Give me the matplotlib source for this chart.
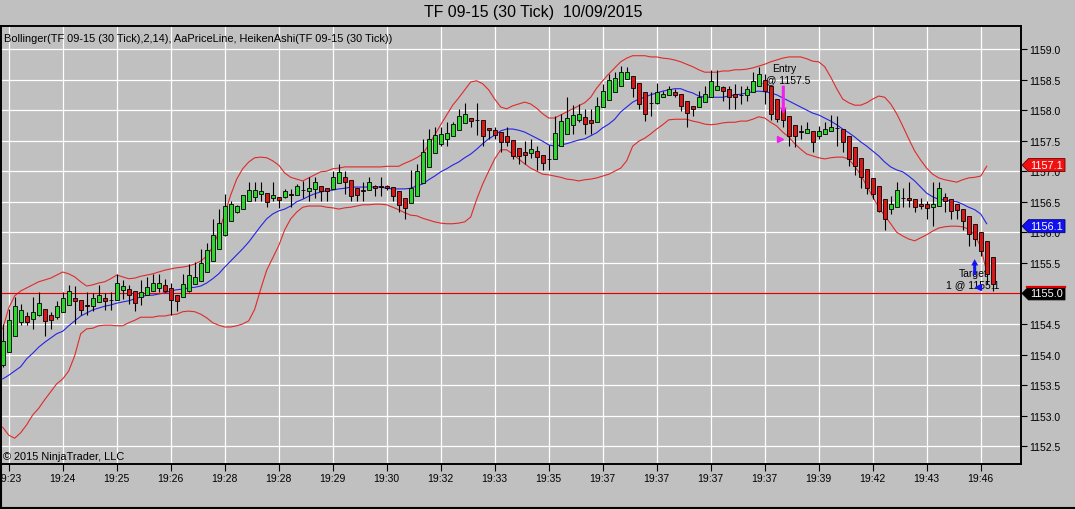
import matplotlib
matplotlib.use('Agg')
import matplotlib.pyplot as plt
import numpy as np
from matplotlib.patches import Polygon
from matplotlib.lines import Line2D
from matplotlib.transforms import IdentityTransform

# ---------------- data (Heiken Ashi candles, TF 09-15 30 tick) ----------------
opens = [
1153.82, 1154.04, 1154.30, 1154.54, 1154.63, 1154.58, 1154.65, 1154.74, 1154.65, 1154.61,
1154.69, 1154.81, 1154.92, 1154.90, 1154.81, 1154.80, 1154.86, 1154.92, 1154.89, 1154.89,
1155.06, 1155.08, 1155.04, 1154.94, 1154.98, 1155.04, 1155.09, 1155.14, 1155.09, 1154.98,
1154.94, 1155.04, 1155.16, 1155.21, 1155.35, 1155.53, 1155.73, 1155.95, 1156.19, 1156.33,
1156.38, 1156.51, 1156.58, 1156.63, 1156.64, 1156.56, 1156.58, 1156.57, 1156.62, 1156.61,
1156.69, 1156.68, 1156.71, 1156.76, 1156.72, 1156.71, 1156.80, 1156.90, 1156.85, 1156.72,
1156.69, 1156.69, 1156.75, 1156.75, 1156.75, 1156.74, 1156.67, 1156.56, 1156.48, 1156.60,
1156.80, 1157.07, 1157.30, 1157.45, 1157.53, 1157.57, 1157.68, 1157.79, 1157.87, 1157.84,
1157.84, 1157.71, 1157.68, 1157.64, 1157.57, 1157.51, 1157.38, 1157.31, 1157.30, 1157.33,
1157.27, 1157.20, 1157.20, 1157.41, 1157.61, 1157.75, 1157.84, 1157.89, 1157.83, 1157.81,
1158.05, 1158.16, 1158.29, 1158.40, 1158.51, 1158.55, 1158.45, 1158.29, 1158.11, 1158.11,
1158.21, 1158.24, 1158.29, 1158.26, 1158.15, 1158.07, 1158.05, 1158.13, 1158.21, 1158.33,
1158.37, 1158.35, 1158.27, 1158.25, 1158.25, 1158.29, 1158.39, 1158.49, 1158.40, 1158.18,
1158.03, 1157.91, 1157.75, 1157.65, 1157.63, 1157.66, 1157.57, 1157.61, 1157.65, 1157.71,
1157.69, 1157.58, 1157.39, 1157.21, 1157.03, 1156.89, 1156.75, 1156.55, 1156.38, 1156.42,
1156.56, 1156.56, 1156.54, 1156.47, 1156.46, 1156.42, 1156.43, 1156.57, 1156.54, 1156.46,
1156.38, 1156.27, 1156.13, 1156.01, 1155.85, 1155.59]

closes = [
1154.22, 1154.57, 1154.80, 1154.73, 1154.54, 1154.69, 1154.84, 1154.55, 1154.56, 1154.80,
1154.92, 1155.04, 1154.88, 1154.73, 1154.80, 1154.92, 1154.98, 1154.87, 1154.89, 1155.17,
1155.12, 1154.98, 1154.84, 1155.02, 1155.10, 1155.17, 1155.17, 1155.04, 1154.89, 1154.87,
1155.16, 1155.30, 1155.27, 1155.50, 1155.71, 1155.96, 1156.16, 1156.43, 1156.46, 1156.43,
1156.61, 1156.69, 1156.69, 1156.67, 1156.49, 1156.61, 1156.53, 1156.67, 1156.61, 1156.76,
1156.69, 1156.73, 1156.82, 1156.67, 1156.68, 1156.91, 1156.99, 1156.82, 1156.59, 1156.61,
1156.67, 1156.83, 1156.73, 1156.74, 1156.73, 1156.59, 1156.45, 1156.40, 1156.73, 1157.01,
1157.31, 1157.53, 1157.59, 1157.61, 1157.63, 1157.77, 1157.91, 1157.94, 1157.82, 1157.83,
1157.57, 1157.67, 1157.60, 1157.48, 1157.48, 1157.25, 1157.25, 1157.26, 1157.37, 1157.24,
1157.13, 1157.20, 1157.63, 1157.82, 1157.87, 1157.92, 1157.94, 1157.78, 1157.79, 1158.07,
1158.32, 1158.49, 1158.52, 1158.62, 1158.62, 1158.36, 1158.10, 1157.93, 1158.11, 1158.29,
1158.26, 1158.35, 1158.24, 1158.06, 1157.96, 1158.01, 1158.21, 1158.26, 1158.48, 1158.40,
1158.31, 1158.21, 1158.21, 1158.24, 1158.35, 1158.48, 1158.59, 1158.32, 1157.94, 1157.85,
1157.83, 1157.58, 1157.57, 1157.64, 1157.69, 1157.48, 1157.65, 1157.69, 1157.73, 1157.70,
1157.47, 1157.20, 1157.09, 1156.91, 1156.73, 1156.63, 1156.35, 1156.22, 1156.46, 1156.69,
1156.56, 1156.53, 1156.41, 1156.43, 1156.39, 1156.46, 1156.72, 1156.52, 1156.35, 1156.36,
1156.19, 1155.97, 1155.89, 1155.70, 1155.32, 1155.16]

highs = [
1154.50, 1154.75, 1154.94, 1154.83, 1154.69, 1154.94, 1155.02, 1154.74, 1154.69, 1154.88,
1155.02, 1155.13, 1155.12, 1154.90, 1155.02, 1155.01, 1155.13, 1155.00, 1155.02, 1155.32,
1155.22, 1155.14, 1155.04, 1155.22, 1155.27, 1155.32, 1155.32, 1155.24, 1155.17, 1154.98,
1155.32, 1155.48, 1155.51, 1155.73, 1155.82, 1156.22, 1156.38, 1156.63, 1156.52, 1156.44,
1156.61, 1156.82, 1156.83, 1156.83, 1156.64, 1156.82, 1156.58, 1156.71, 1156.71, 1156.79,
1156.84, 1156.91, 1156.91, 1156.76, 1156.72, 1157.01, 1157.12, 1157.01, 1156.85, 1156.72,
1156.82, 1156.91, 1156.78, 1156.91, 1156.78, 1156.74, 1156.67, 1156.56, 1157.02, 1157.12,
1157.53, 1157.69, 1157.72, 1157.72, 1157.80, 1157.81, 1158.02, 1158.12, 1157.87, 1158.11,
1157.84, 1157.71, 1157.72, 1157.64, 1157.72, 1157.51, 1157.38, 1157.50, 1157.53, 1157.41,
1157.27, 1157.43, 1157.91, 1157.94, 1158.21, 1158.08, 1158.10, 1158.02, 1158.02, 1158.21,
1158.43, 1158.59, 1158.62, 1158.72, 1158.70, 1158.55, 1158.45, 1158.29, 1158.29, 1158.44,
1158.32, 1158.40, 1158.35, 1158.26, 1158.15, 1158.07, 1158.32, 1158.40, 1158.65, 1158.65,
1158.40, 1158.40, 1158.43, 1158.40, 1158.40, 1158.62, 1158.70, 1158.59, 1158.40, 1158.18,
1158.03, 1157.91, 1157.75, 1157.75, 1157.81, 1157.66, 1157.74, 1157.81, 1157.92, 1157.91,
1157.69, 1157.58, 1157.39, 1157.21, 1157.03, 1156.89, 1156.75, 1156.55, 1156.60, 1156.83,
1156.73, 1156.83, 1156.54, 1156.56, 1156.52, 1156.82, 1156.83, 1156.65, 1156.54, 1156.46,
1156.38, 1156.27, 1156.13, 1156.01, 1155.85, 1155.59]

lows = [
1153.80, 1154.04, 1154.30, 1154.48, 1154.48, 1154.42, 1154.63, 1154.31, 1154.42, 1154.58,
1154.69, 1154.81, 1154.50, 1154.64, 1154.64, 1154.72, 1154.86, 1154.73, 1154.73, 1154.89,
1154.91, 1154.83, 1154.72, 1154.81, 1154.98, 1155.04, 1155.02, 1155.02, 1154.64, 1154.72,
1154.94, 1155.02, 1155.16, 1155.21, 1155.35, 1155.53, 1155.73, 1155.94, 1156.19, 1156.31,
1156.38, 1156.51, 1156.52, 1156.52, 1156.41, 1156.52, 1156.40, 1156.56, 1156.41, 1156.61,
1156.56, 1156.52, 1156.56, 1156.52, 1156.52, 1156.71, 1156.80, 1156.63, 1156.52, 1156.52,
1156.52, 1156.69, 1156.60, 1156.60, 1156.70, 1156.52, 1156.33, 1156.21, 1156.48, 1156.60,
1156.80, 1157.07, 1157.30, 1157.41, 1157.41, 1157.57, 1157.68, 1157.79, 1157.72, 1157.59,
1157.41, 1157.52, 1157.52, 1157.31, 1157.41, 1157.20, 1157.12, 1157.12, 1157.21, 1157.02,
1157.02, 1157.02, 1157.20, 1157.41, 1157.61, 1157.61, 1157.80, 1157.61, 1157.61, 1157.81,
1158.05, 1158.16, 1158.29, 1158.40, 1158.51, 1158.21, 1158.02, 1157.82, 1157.91, 1158.10,
1158.21, 1158.24, 1158.21, 1157.99, 1157.73, 1157.91, 1158.05, 1158.13, 1158.21, 1158.33,
1158.15, 1158.02, 1158.02, 1158.10, 1158.15, 1158.29, 1158.39, 1158.10, 1157.83, 1157.80,
1157.72, 1157.42, 1157.40, 1157.53, 1157.63, 1157.31, 1157.53, 1157.61, 1157.65, 1157.42,
1157.31, 1157.09, 1156.93, 1156.73, 1156.63, 1156.54, 1156.33, 1156.03, 1156.30, 1156.42,
1156.41, 1156.41, 1156.33, 1156.38, 1156.22, 1156.11, 1156.43, 1156.33, 1156.22, 1156.22,
1156.03, 1155.78, 1155.78, 1155.62, 1155.15, 1155.04]

# Bollinger(2,14) band values per bar
bb_upper = [
1154.42, 1154.76, 1154.96, 1155.04, 1155.09, 1155.14, 1155.19, 1155.22, 1155.25, 1155.30,
1155.35, 1155.32, 1155.27, 1155.19, 1155.12, 1155.14, 1155.17, 1155.19, 1155.24, 1155.30,
1155.27, 1155.24, 1155.25, 1155.28, 1155.30, 1155.32, 1155.35, 1155.38, 1155.40, 1155.42,
1155.43, 1155.45, 1155.48, 1155.53, 1155.61, 1155.76, 1156.00, 1156.30, 1156.61, 1156.87,
1157.04, 1157.15, 1157.22, 1157.23, 1157.22, 1157.17, 1157.10, 1156.97, 1156.90, 1156.87,
1156.84, 1156.89, 1156.94, 1156.99, 1157.00, 1157.04, 1157.05, 1157.07, 1157.07, 1157.07,
1157.07, 1157.07, 1157.07, 1157.07, 1157.08, 1157.08, 1157.08, 1157.13, 1157.17, 1157.22,
1157.28, 1157.43, 1157.59, 1157.76, 1157.92, 1158.08, 1158.20, 1158.33, 1158.46, 1158.48,
1158.43, 1158.33, 1158.18, 1158.05, 1158.02, 1158.07, 1158.10, 1158.13, 1158.10, 1158.03,
1157.94, 1157.87, 1157.87, 1157.92, 1157.97, 1158.02, 1158.07, 1158.12, 1158.21, 1158.36,
1158.48, 1158.59, 1158.69, 1158.79, 1158.85, 1158.89, 1158.89, 1158.89, 1158.87, 1158.87,
1158.85, 1158.84, 1158.82, 1158.79, 1158.75, 1158.71, 1158.66, 1158.62, 1158.62, 1158.62,
1158.64, 1158.64, 1158.66, 1158.66, 1158.67, 1158.69, 1158.72, 1158.75, 1158.79, 1158.82,
1158.85, 1158.87, 1158.87, 1158.87, 1158.84, 1158.80, 1158.79, 1158.71, 1158.54, 1158.35,
1158.18, 1158.12, 1158.08, 1158.08, 1158.12, 1158.18, 1158.23, 1158.21, 1158.10, 1157.94,
1157.74, 1157.53, 1157.33, 1157.18, 1157.05, 1156.95, 1156.89, 1156.86, 1156.84, 1156.82,
1156.86, 1156.89, 1156.90, 1156.92, 1157.08]

bb_middle = [
1153.60, 1153.66, 1153.73, 1153.80, 1153.93, 1154.02, 1154.12, 1154.20, 1154.27, 1154.34,
1154.38, 1154.47, 1154.55, 1154.63, 1154.68, 1154.73, 1154.76, 1154.79, 1154.81, 1154.84,
1154.86, 1154.88, 1154.91, 1154.94, 1154.97, 1154.97, 1154.99, 1155.01, 1155.04, 1155.06,
1155.07, 1155.09, 1155.10, 1155.12, 1155.17, 1155.24, 1155.32, 1155.43, 1155.53, 1155.63,
1155.73, 1155.84, 1155.97, 1156.10, 1156.22, 1156.30, 1156.35, 1156.38, 1156.43, 1156.50,
1156.54, 1156.59, 1156.63, 1156.66, 1156.68, 1156.69, 1156.71, 1156.72, 1156.74, 1156.74,
1156.74, 1156.74, 1156.74, 1156.74, 1156.72, 1156.71, 1156.71, 1156.71, 1156.72, 1156.76,
1156.79, 1156.86, 1156.92, 1156.99, 1157.04, 1157.10, 1157.15, 1157.22, 1157.28, 1157.36,
1157.45, 1157.53, 1157.59, 1157.66, 1157.69, 1157.69, 1157.67, 1157.64, 1157.59, 1157.54,
1157.49, 1157.43, 1157.41, 1157.43, 1157.45, 1157.48, 1157.51, 1157.53, 1157.58, 1157.63,
1157.71, 1157.77, 1157.85, 1157.97, 1158.05, 1158.13, 1158.18, 1158.21, 1158.25, 1158.28,
1158.31, 1158.33, 1158.35, 1158.35, 1158.31, 1158.28, 1158.23, 1158.21, 1158.21, 1158.21,
1158.21, 1158.23, 1158.25, 1158.26, 1158.28, 1158.30, 1158.31, 1158.30, 1158.28, 1158.25,
1158.20, 1158.15, 1158.10, 1158.05, 1158.00, 1157.95, 1157.92, 1157.87, 1157.82, 1157.76,
1157.69, 1157.63, 1157.56, 1157.48, 1157.41, 1157.33, 1157.25, 1157.15, 1157.07, 1157.02,
1156.99, 1156.92, 1156.84, 1156.74, 1156.64, 1156.58, 1156.54, 1156.53, 1156.51, 1156.50,
1156.46, 1156.41, 1156.37, 1156.30, 1156.14]

bb_lower = [
1152.81, 1152.68, 1152.63, 1152.72, 1152.85, 1153.01, 1153.12, 1153.26, 1153.39, 1153.52,
1153.60, 1153.73, 1153.98, 1154.34, 1154.42, 1154.43, 1154.47, 1154.48, 1154.48, 1154.47,
1154.47, 1154.52, 1154.56, 1154.61, 1154.61, 1154.61, 1154.63, 1154.63, 1154.65, 1154.66,
1154.70, 1154.71, 1154.70, 1154.66, 1154.60, 1154.52, 1154.48, 1154.45, 1154.45, 1154.47,
1154.50, 1154.55, 1154.74, 1155.07, 1155.38, 1155.58, 1155.78, 1156.04, 1156.22, 1156.33,
1156.41, 1156.43, 1156.43, 1156.43, 1156.41, 1156.40, 1156.38, 1156.40, 1156.41, 1156.43,
1156.45, 1156.45, 1156.46, 1156.46, 1156.45, 1156.41, 1156.37, 1156.32, 1156.28, 1156.27,
1156.23, 1156.20, 1156.17, 1156.15, 1156.14, 1156.14, 1156.15, 1156.17, 1156.25, 1156.54,
1156.79, 1157.00, 1157.20, 1157.35, 1157.35, 1157.28, 1157.20, 1157.12, 1157.05, 1157.00,
1156.95, 1156.94, 1156.92, 1156.90, 1156.87, 1156.86, 1156.84, 1156.86, 1156.87, 1156.89,
1156.92, 1156.95, 1157.00, 1157.05, 1157.17, 1157.41, 1157.49, 1157.54, 1157.61, 1157.69,
1157.76, 1157.84, 1157.85, 1157.85, 1157.85, 1157.82, 1157.80, 1157.77, 1157.76, 1157.77,
1157.79, 1157.80, 1157.80, 1157.82, 1157.82, 1157.85, 1157.89, 1157.87, 1157.80, 1157.74,
1157.64, 1157.56, 1157.45, 1157.36, 1157.28, 1157.25, 1157.22, 1157.20, 1157.22, 1157.23,
1157.23, 1157.20, 1157.08, 1156.94, 1156.76, 1156.58, 1156.41, 1156.27, 1156.14, 1156.00,
1155.94, 1155.89, 1155.86, 1155.91, 1155.96, 1156.02, 1156.07, 1156.09, 1156.10, 1156.10,
1156.09, 1156.05, 1155.96, 1155.76, 1155.35]

price_line = 1155.0
time_labels = ['19:23', '19:24', '19:25', '19:26', '19:28', '19:28', '19:29', '19:30',
               '19:32', '19:33', '19:35', '19:37', '19:37', '19:37', '19:37', '19:39',
               '19:42', '19:43', '19:46']
tick_bars = list(range(1, 166, 9))
y_ticks = [1152.5, 1153.0, 1153.5, 1154.0, 1154.5, 1155.0, 1155.5, 1156.0,
           1156.5, 1157.0, 1157.5, 1158.0, 1158.5, 1159.0]

entry_bar, entry_price = 130, 1157.5
exit_bar, exit_price = 162, 1155.1

# ---------------- style ----------------
plt.rcParams['font.family'] = ['Liberation Sans', 'DejaVu Sans']
BG = '#C0C0C0'
UP = '#2ED62E'
DN = '#D81818'
W, H = 1075, 510

fig = plt.figure(figsize=(W / 100, H / 100), dpi=100, facecolor=BG)
ax = fig.add_axes([1 / W, 45 / H, 1020 / W, 438 / H], facecolor=BG)

n = len(opens)
xb = np.arange(n)
o = np.array(opens); c = np.array(closes)
hi = np.array(highs); lo = np.array(lows)

# bands
xs = np.arange(len(bb_upper))
ax.plot(xs, bb_upper, color='#E02A2A', lw=0.8, zorder=2)
ax.plot(xs, bb_lower, color='#E02A2A', lw=0.8, zorder=2)
ax.plot(xs, bb_middle, color='#2424E6', lw=0.8, zorder=2)
ax.axhline(price_line, color='#E00000', lw=0.9, zorder=2)

# annotations text (beneath candles)
ax.text(entry_bar + 0.2, 1158.60, 'Entry\n1 @ %.1f' % entry_price, ha='center', va='center',
        fontsize=7.5, linespacing=1.2, zorder=2.5)
ax.text(exit_bar - 0.3, 1155.24, 'Target\n1 @ %.1f' % exit_price, ha='center', va='center',
        fontsize=7.5, linespacing=1.2, zorder=2.5)

# candles
ax.vlines(xb, lo, hi, color='black', lw=0.8, zorder=3)
cols = [UP if c[i] >= o[i] else DN for i in range(n)]
bottoms = np.minimum(o, c)
heights = np.maximum(np.abs(c - o), 0.004)
ax.bar(xb, heights, bottom=bottoms, width=0.64, color=cols, edgecolor='black',
       linewidth=0.6, zorder=4)

# trade markers
ax.annotate('', xy=(entry_bar + 0.1, 1157.94), xytext=(entry_bar + 0.1, 1158.40),
            arrowprops=dict(arrowstyle='simple,head_length=0.45,head_width=0.5,tail_width=0.22',
                            fc='#F020F0', ec='none', shrinkA=0, shrinkB=0, mutation_scale=10),
            zorder=5)
ax.plot(entry_bar - 0.4, 1157.52, marker='>', color='#F020F0', markersize=4.5, zorder=5)
ax.annotate('', xy=(exit_bar, 1155.56), xytext=(exit_bar, 1155.30),
            arrowprops=dict(arrowstyle='simple,head_length=0.45,head_width=0.5,tail_width=0.22',
                            fc='#1414F0', ec='none', shrinkA=0, shrinkB=0, mutation_scale=10),
            zorder=5)
ax.plot(exit_bar + 0.6, 1155.11, marker='<', color='#1414F0', markersize=4.5, zorder=5)

# axes setup
ax.set_xlim((1 - 2.7) / 6, (1021 - 2.7) / 6)
ax.set_ylim(1152.208, 1159.376)
ax.set_xticks(tick_bars)
ax.set_xticklabels(time_labels)
ax.set_yticks(y_ticks)
ax.set_yticklabels(['%.1f' % v for v in y_ticks])
ax.yaxis.tick_right()
ax.tick_params(axis='y', direction='out', length=4.5, width=0.8, pad=1.2, labelsize=7.5,
               colors='black')
ax.tick_params(axis='x', direction='out', length=5, width=0.8, pad=1.2, labelsize=7.5,
               colors='black')
ax.grid(True, color='white', lw=0.9, zorder=0)
ax.set_axisbelow(True)
for s in ax.spines.values():
    s.set_color('black')
    s.set_linewidth(1.4)

# texts
fig.text(533 / W, 1 - 13 / H, 'TF 09-15 (30 Tick)  10/09/2015', ha='center', va='center',
         fontsize=11.4)
fig.text(4 / W, 1 - 39 / H,
         'Bollinger(TF 09-15 (30 Tick),2,14), AaPriceLine, HeikenAshi(TF 09-15 (30 Tick))',
         ha='left', va='center', fontsize=7.9)
fig.text(3 / W, 1 - 457 / H, '\u00a9 2015 NinjaTrader, LLC', ha='left', va='center',
         fontsize=7.9)

# right-axis value flags
xr = ax.transAxes.transform((1, 0))[0]


def flag(val, fc, ec, top_red=False):
    yd = ax.transData.transform((0, val))[1]
    h = 6.5
    verts = [(xr + 1, yd), (xr + 7.5, yd + h), (xr + 44, yd + h),
             (xr + 44, yd - h), (xr + 7.5, yd - h)]
    fig.add_artist(Polygon(verts, closed=True, transform=IdentityTransform(),
                           facecolor=fc, edgecolor=ec, lw=0.6, zorder=10))
    if top_red:
        fig.add_artist(Line2D([xr + 6, xr + 44], [yd + h, yd + h], transform=IdentityTransform(),
                              color='#E00000', lw=1.6, zorder=11))
    fig.text((xr + 26) / W, yd / H, '%.1f' % val, ha='center', va='center',
             color='white', fontsize=7.8, zorder=12)


flag(round(bb_upper[-1], 1), '#F01010', '#700000')
flag(round(bb_middle[-1], 1), '#1010F0', '#000070')
flag(price_line, '#000000', '#000000', top_red=True)

# outer frame lines (left and bottom edges of window)
fig.add_artist(Line2D([0.5, 0.5], [0, 45], transform=IdentityTransform(), color='black', lw=1.5))
fig.add_artist(Line2D([0, W], [1, 1], transform=IdentityTransform(), color='black', lw=1.5))

fig.savefig('out.png', dpi=100, facecolor=BG)
